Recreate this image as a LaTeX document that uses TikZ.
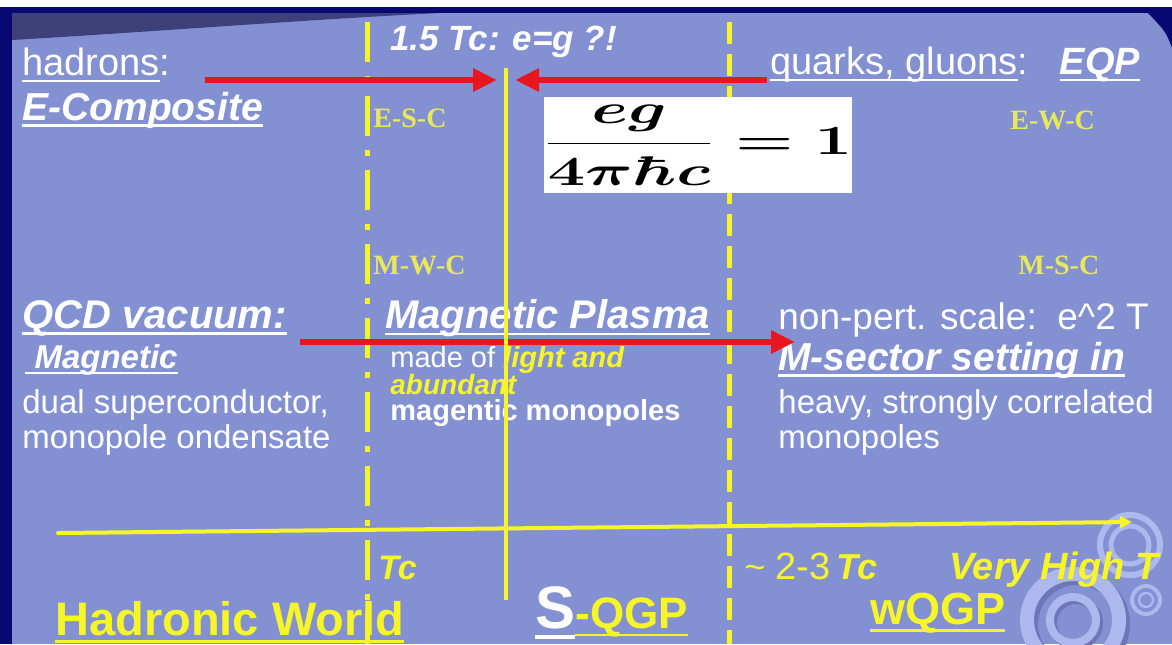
\documentclass[tikz,border=0pt]{standalone}
\usepackage[no-math]{fontspec}
\usepackage{graphicx}
\setmainfont{Liberation Sans}
\newfontfamily\serifb{Liberation Serif}
\usetikzlibrary{arrows.meta}
\definecolor{bg}{RGB}{131,145,211}
\definecolor{navy}{RGB}{8,8,115}
\definecolor{swoosh}{RGB}{62,64,122}
\definecolor{ylw}{RGB}{245,245,40}
\definecolor{ylwlbl}{RGB}{232,232,90}
\definecolor{rd}{RGB}{232,22,30}
\definecolor{ring}{RGB}{172,184,238}
\definecolor{ringsh}{RGB}{108,118,184}
\newcommand\fsz[1]{\fontsize{#1}{#1}\selectfont}
\newcommand\uln[1]{\setbox0=\hbox{#1}\rlap{\rule[-0.17em]{\wd0}{0.06em}}\box0}
\begin{document}
\begin{tikzpicture}[x=0.5pt,y=-0.5pt,
  txt/.style={anchor=west,inner sep=0pt,text=white},
  ytxt/.style={anchor=west,inner sep=0pt,text=ylw},
  lbl/.style={anchor=west,inner sep=0pt,text=ylwlbl,font=\serifb\bfseries\fsz{14}},
  redarrow/.style={draw=rd,line width=3pt,-{Triangle[length=12pt,width=11pt]}},
  axisarrow/.style={draw=ylw,line width=2pt,line cap=round,-{Triangle[length=6pt,width=6pt]}},
  solidline/.style={draw=ylw,line width=2pt},
  dashA/.style={draw=ylw,line width=2.5pt,dash pattern=on 20pt off 7pt on 3pt off 7pt},
  dashB/.style={draw=ylw,line width=2.5pt,dash pattern=on 11pt off 5pt},
  ringst/.style={draw=ring},
  ringsd/.style={draw=ringsh},
  formulabox/.style={fill=white,minimum width=150pt,minimum height=48pt,inner sep=0pt,font=\fsz{20}\boldmath},
]
\useasboundingbox (0,0) rectangle (1172,644);
% background
\fill[bg] (0,0) rectangle (1172,644);
\fill[white] (0,0) rectangle (1172,7);
\fill[navy] (0,7) rectangle (1172,13);
\fill[navy] (0,7) rectangle (12,644);
\fill[swoosh] (12,13) -- (440,13) .. controls (300,20) and (150,32) .. (12,40) -- cycle;
\fill[navy] (1148,13) -- (1172,13) -- (1172,48) .. controls (1166,32) .. (1148,13) -- cycle;
% rings
\draw[ringsd,line width=7pt] (1077,624) circle (23pt);
\draw[ringst,line width=7pt] (1073,620) circle (23pt);
\draw[ringsd,line width=4pt] (1076,623) circle (11.5pt);
\draw[ringst,line width=4pt] (1073,620) circle (11.5pt);
\draw[ringst,line width=3pt] (1130,545) circle (15pt);
\draw[ringst,line width=2.5pt] (1130,545) circle (9.5pt);
\draw[ringst,line width=2pt] (1146,600) circle (7pt);
\draw[ringst,line width=1.2pt] (1146,600) circle (3.5pt);
% dashed lines
\coordinate (dA0) at (367,22);
\coordinate (dA1) at (367,644);
\coordinate (dB0) at (729,22);
\coordinate (dB1) at (729,644);
\draw[dashA] (dA0) -- (dA1);
\draw[dashB] (dB0) -- (dB1);
% formula box
\node[formulabox] (formula) at (698,145) {\scalebox{1.6}[1]{$\displaystyle\frac{eg}{4\pi\hbar c}=1$}};
% texts
\node[txt,font=\fsz{19}] (hadrons) at (22,65) {\uln{hadrons}:};
\node[txt,font=\bfseries\itshape\fsz{19.5}] (ecomp) at (22,110) {\uln{E-Composite}};
\node[txt,font=\bfseries\itshape\fsz{17.5}] (tc15) at (390,42) {1.5 Tc: e=g ?!};
\node[txt,font=\fsz{19}] (quarks) at (770,65) {\uln{quarks, gluons}:\ \ \ \textbf{\textit{\uln{EQP}}}};
\node[lbl] (esc) at (373,118) {E-S-C};
\node[lbl] (ewc) at (1010,120) {E-W-C};
\node[lbl] (mwc) at (373,265) {M-W-C};
\node[lbl] (msc) at (1018,265) {M-S-C};
\node[txt,font=\bfseries\itshape\fsz{20}] (qcd) at (22,318) {\uln{QCD vacuum:}};
\node[txt,font=\bfseries\itshape\fsz{16.5}] (magn) at (25,360) {\uln{\ Magnetic}};
\node[txt,font=\fsz{16.5}] (dual) at (22,405) {dual superconductor,};
\node[txt,font=\fsz{16.5}] (monoc) at (22,440) {monopole ondensate};
\node[txt,font=\bfseries\itshape\fsz{20}] (mplasma) at (385,318) {\uln{Magnetic Plasma}};
\node[txt,font=\fsz{14.5}] (madeof) at (390,360) {made of \textcolor{ylw}{\textbf{\textit{light and}}}};
\node[ytxt,font=\bfseries\itshape\fsz{14}] (abund) at (390,384) {abundant};
\node[txt,font=\bfseries\fsz{14.5}] (magmono) at (390,413) {magentic monopoles};
\node[txt,font=\fsz{18.5}] (nonpert) at (778,320) {non-pert. scale:\ \ e\textasciicircum 2 T};
\node[txt,font=\bfseries\itshape\fsz{19.5}] (msector) at (778,360) {\uln{M-sector setting in}};
\node[txt,font=\fsz{16.5}] (heavy) at (778,405) {heavy, strongly correlated};
\node[txt,font=\fsz{16.5}] (monop) at (778,440) {monopoles};
\node[ytxt,font=\bfseries\itshape\fsz{17}] (tc) at (378,568) {Tc};
\node[ytxt,font=\fsz{18}] (tc23) at (744,570) {\textasciitilde\hspace{5pt}{\fsz{19}2-3}\hspace{3pt}\textbf{\textit{Tc}}\hspace{36pt}{\fsz{19}\textbf{\textit{Very High T}}}};
\node[ytxt,font=\bfseries\fsz{23.5}] (hadw) at (55,622) {\uln{Hadronic World}};
\node[ytxt,font=\bfseries\fsz{22}] (sqgp) at (535,613) {{\color{white}\fsz{30}\uln{S}}\uln{-QGP}};
\node[ytxt,font=\bfseries\fsz{22.5}] (wqgp) at (870,613) {\uln{wQGP}};
% red arrows
\coordinate (ra0) at (205,80);
\coordinate (ra1) at (497,80);
\coordinate (rb0) at (767,80);
\coordinate (rb1) at (515,80);
\coordinate (rc0) at (300,342);
\coordinate (rc1) at (795,342);
\draw[redarrow] (ra0) -- (ra1);
\draw[redarrow] (rb0) -- (rb1);
\draw[redarrow] (rc0) -- (rc1);
% axis
\coordinate (ax0) at (58,533);
\coordinate (ax1) at (1132,522);
\draw[axisarrow] (ax0) -- (ax1);
% solid vertical line
\coordinate (sl0) at (506,68);
\coordinate (sl1) at (506,600);
\draw[solidline] (sl0) -- (sl1);
\end{tikzpicture}
\end{document}
